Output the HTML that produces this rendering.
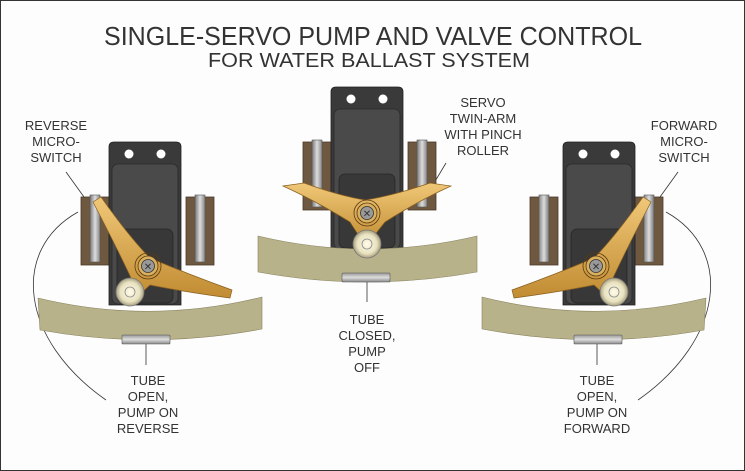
<!DOCTYPE html>
<html><head><meta charset="utf-8"><style>
html,body{margin:0;padding:0;background:#fff}
svg{display:block}
text{font-family:"Liberation Sans",Arial,sans-serif;fill:#333}
</style></head><body>
<svg width="745" height="471" viewBox="0 0 745 471" xmlns="http://www.w3.org/2000/svg">
<defs>
<linearGradient id="bar" x1="0" x2="1"><stop offset="0" stop-color="#777"/><stop offset=".5" stop-color="#ddd"/><stop offset="1" stop-color="#888"/></linearGradient>
<linearGradient id="gold" x1="0" y1="0" x2="0" y2="1"><stop offset="0" stop-color="#f0c878"/><stop offset="1" stop-color="#c08a30"/></linearGradient>
<radialGradient id="roll"><stop offset="0" stop-color="#fffbe8"/><stop offset=".7" stop-color="#e8e2c0"/><stop offset="1" stop-color="#a8a080"/></radialGradient>
<linearGradient id="plate" x1="0" x2="0" y1="0" y2="1"><stop offset="0" stop-color="#999"/><stop offset=".5" stop-color="#ddd"/><stop offset="1" stop-color="#888"/></linearGradient>
<g id="servoBody">
  <!-- mounts -->
  <rect x="-64" y="-70" width="28" height="68" fill="#6e5840" stroke="#4a3a28" stroke-width=".8"/>
  <rect x="41" y="-70" width="28" height="68" fill="#6e5840" stroke="#4a3a28" stroke-width=".8"/>
  <rect x="-55" y="-72" width="10" height="67" fill="url(#bar)" stroke="#555" stroke-width=".6"/>
  <rect x="50" y="-72" width="10" height="67" fill="url(#bar)" stroke="#555" stroke-width=".6"/>
  <!-- body -->
  <path d="M-36,-120 Q-36,-125 -31,-125 L31,-125 Q36,-125 36,-120 L36,38 L-36,38 Z" fill="#3a3a3a" stroke="#222" stroke-width=".8"/>
  <circle cx="-16" cy="-113" r="4.5" fill="#fff"/><circle cx="16" cy="-113" r="4.5" fill="#fff"/>
  <rect x="-33" y="-103" width="66" height="140" rx="6" fill="#4a4a4a" stroke="#2a2a2a" stroke-width=".8"/>
  <rect x="-28" y="-38" width="56" height="74" rx="6" fill="#383838" stroke="#262626" stroke-width=".8"/>
</g>
</defs>
<rect x="0.5" y="0.5" width="744" height="470" fill="#fdfdfd" stroke="#333" stroke-width="1"/>

<text x="373" y="45" font-size="26" text-anchor="middle" textLength="538" lengthAdjust="spacingAndGlyphs">SINGLE-SERVO PUMP AND VALVE CONTROL</text>
<text x="369" y="67" font-size="20" text-anchor="middle" textLength="322" lengthAdjust="spacingAndGlyphs">FOR WATER BALLAST SYSTEM</text>

<!-- leader lines -->
<g stroke="#333" stroke-width=".8" fill="none">
<line x1="66" y1="172" x2="84" y2="197"/>
<path d="M78,212 C10,250 20,340 106,400"/>
<line x1="146" y1="330" x2="146" y2="365"/>
<line x1="367" y1="276" x2="367" y2="302"/>
<line x1="446" y1="163" x2="431" y2="188"/>
<line x1="678" y1="172" x2="660" y2="197"/>
<path d="M666,212 C734,250 724,340 638,400"/>
<line x1="597" y1="330" x2="597" y2="365"/>
</g>

<!-- CENTER -->
<g transform="translate(367,212)">
  <use href="#servoBody"/>
</g>
<path d="M258,236 Q367,262 477,236 L477,272 Q367,292 258,272 Z" fill="#b8b28a" stroke="#8a8460" stroke-width=".6"/>
<rect x="342" y="273" width="48" height="9" rx="1" fill="url(#plate)" stroke="#555" stroke-width=".6"/>
<path d="M283,186 L304,183 Q340,196 365,200 Q392,196 430,183 L451,186 Q420,200 385,222 Q372,238 367,246 Q360,238 350,222 Q314,200 283,186 Z" fill="url(#gold)" stroke="#8a6020" stroke-width=".7"/>
<circle cx="367" cy="213" r="13" fill="none" stroke="#5a3a10" stroke-width=".8"/>
<circle cx="367" cy="213" r="10" fill="#d8b060" stroke="#5a3a10" stroke-width=".8"/>
<circle cx="367" cy="213" r="6.5" fill="#999" stroke="#333" stroke-width=".8"/>
<text x="367" y="217" font-size="10" text-anchor="middle" fill="#333">✕</text>
<circle cx="367" cy="244" r="14" fill="url(#roll)" stroke="#777" stroke-width=".8"/>
<circle cx="367" cy="244" r="5" fill="none" stroke="#888" stroke-width=".8"/>

<!-- LEFT -->
<g id="leftAssy">
<g transform="translate(145,267)"><use href="#servoBody"/></g>
<path d="M38,298 Q150,325 262,297 L262,329 Q150,350 40,330 Z" fill="#b8b28a" stroke="#8a8460" stroke-width=".6"/>
<rect x="122" y="335" width="48" height="9" rx="1" fill="url(#plate)" stroke="#555" stroke-width=".6"/>
<path d="M93,202 L101,197 Q130,238 150,258 Q190,275 232,290 L230,298 Q185,292 150,285 Q140,295 128,300 Q122,290 132,280 Q118,250 93,202 Z" fill="url(#gold)" stroke="#8a6020" stroke-width=".7"/>
<circle cx="148" cy="266" r="13" fill="none" stroke="#5a3a10" stroke-width=".8"/>
<circle cx="148" cy="266" r="10" fill="#d8b060" stroke="#5a3a10" stroke-width=".8"/>
<circle cx="148" cy="266" r="6.5" fill="#999" stroke="#333" stroke-width=".8"/>
<text x="148" y="270" font-size="10" text-anchor="middle" fill="#333">✕</text>
<circle cx="130" cy="292" r="14" fill="url(#roll)" stroke="#777" stroke-width=".8"/>
<circle cx="130" cy="292" r="5" fill="none" stroke="#888" stroke-width=".8"/>
</g>

<!-- RIGHT (mirror) -->
<use href="#leftAssy" transform="translate(744,0) scale(-1,1)"/>

<!-- labels -->
<g font-size="13" text-anchor="middle">
<text x="56" y="130">REVERSE</text><text x="56" y="146">MICRO-</text><text x="56" y="162">SWITCH</text>
<text x="684" y="130">FORWARD</text><text x="684" y="146">MICRO-</text><text x="684" y="162">SWITCH</text>
<text x="483" y="107">SERVO</text><text x="483" y="123">TWIN-ARM</text><text x="483" y="139">WITH PINCH</text><text x="483" y="155">ROLLER</text>
<text x="367" y="324">TUBE</text><text x="367" y="340">CLOSED,</text><text x="367" y="356">PUMP</text><text x="367" y="372">OFF</text>
<text x="148" y="385">TUBE</text><text x="148" y="401">OPEN,</text><text x="148" y="417">PUMP ON</text><text x="148" y="433">REVERSE</text>
<text x="597" y="385">TUBE</text><text x="597" y="401">OPEN,</text><text x="597" y="417">PUMP ON</text><text x="597" y="433">FORWARD</text>
</g>
</svg>
</body></html>
